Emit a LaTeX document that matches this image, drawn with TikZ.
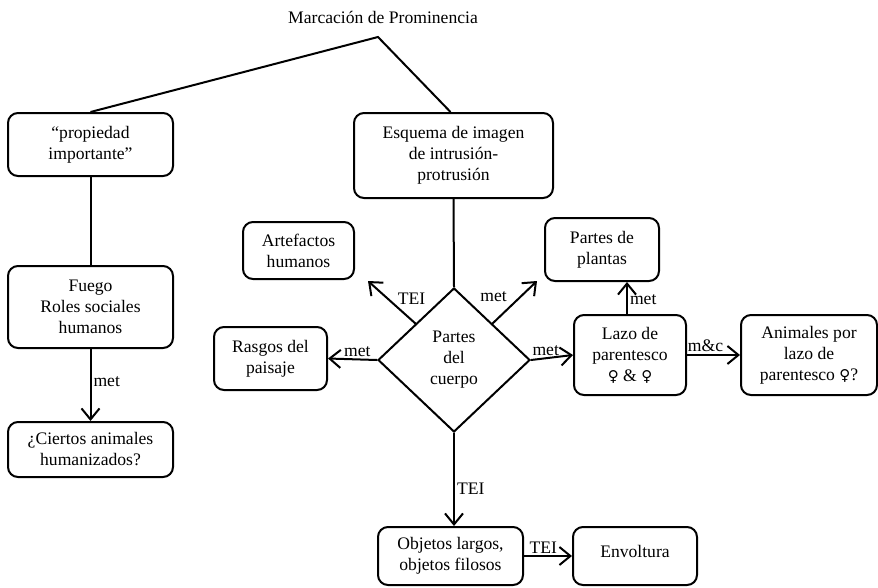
\documentclass[tikz,border=0pt]{standalone}
\usepackage{fontspec}
\setmainfont{Liberation Serif}
\newfontfamily\symfont{DejaVu Sans}
\newcommand{\fem}{{\symfont\fontsize{15}{21}\selectfont ♀}}
\usetikzlibrary{shapes.geometric,arrows.meta,calc}
\begin{document}
\begin{tikzpicture}[x=1pt,y=-1pt,
  every node/.style={font=\fontsize{17.6}{21}\selectfont},
  box/.style={draw,line width=2pt,rounded corners=10pt,align=center,inner sep=0pt},
  conn/.style={line width=2pt},
  arr/.style={line width=2pt,-{Straight Barb[length=11pt,width=18pt,line width=2pt]}},
  lbl/.style={inner sep=2pt}]
\useasboundingbox (0,0) rectangle (878,587);
\node (marc) at (383,17) {Marcación de Prominencia};
\coordinate (apex) at (378,37);
\node[box,minimum width=165pt,minimum height=63pt] (prop) at (90.5,144.5) {“propiedad\\importante”};
\node[box,minimum width=199pt,minimum height=85pt] (esq) at (453.5,155.5) {Esquema de imagen\\de intrusión-\\protrusión};
\node[box,minimum width=165pt,minimum height=82pt] (fuego) at (90.5,307) {Fuego\\Roles sociales\\humanos};
\node[box,minimum width=165pt,minimum height=55pt] (ciertos) at (90.5,449.5) {¿Ciertos animales\\humanizados?};
\node[box,minimum width=111pt,minimum height=57pt] (arte) at (298.5,250.5) {Artefactos\\humanos};
\node[box,minimum width=113pt,minimum height=63pt] (rasgos) at (270.5,358.5) {Rasgos del\\paisaje};
\node[draw,line width=2pt,shape=diamond,minimum width=152pt,minimum height=144pt,inner sep=0pt,align=center] (diam) at (454,360) {Partes\\del\\cuerpo};
\node[box,minimum width=114pt,minimum height=63pt] (plantas) at (602,249.5) {Partes de\\plantas};
\node[box,minimum width=112pt,minimum height=80pt] (lazo) at (630,355) {Lazo de\\parentesco\\\fem\ \& \fem};
\node[box,minimum width=136pt,minimum height=80pt] (anim) at (809,355) {Animales por\\lazo de\\parentesco \fem?};
\node[box,minimum width=145pt,minimum height=58pt] (obj) at (450.5,556) {Objetos largos,\\objetos filosos};
\node[box,minimum width=124pt,minimum height=58pt] (env) at (635,556) {\raisebox{9pt}{Envoltura}};
\coordinate (ul) at (416,324);
\coordinate (ulend) at (368,281);
\coordinate (ur) at (492,324);
\coordinate (urend) at (537,281);
% connectors
\draw[conn] (prop.north) -- (apex) -- ($(esq.north)+(-3,0)$);
\draw[conn] (prop.south) -- (fuego.north);
\draw[arr] (fuego.south) -- node[lbl,right,pos=0.45] {met} (ciertos.north);
\draw[conn] (esq.south) -- (diam.north);
\draw[arr] (ul) -- node[lbl,pos=0.3,xshift=10pt,yshift=12pt] {TEI} (ulend);
\draw[arr] (ur) -- node[lbl,pos=0.3,xshift=-12pt,yshift=14pt] {met} (urend);
\draw[arr] (diam.west) -- node[lbl,above,pos=0.4] {met} (rasgos.east);
\draw[arr] (diam.east) -- node[lbl,above,pos=0.35] {met} (lazo.west);
\draw[arr] ($(lazo.north)+(-3,0)$) -- node[lbl,right,pos=0.45] {met} ($(lazo.north |- plantas.south)+(-3,0)$);
\draw[arr] (lazo.east) -- node[lbl,above,pos=0.35] {m\&c} (anim.west);
\draw[arr] (diam.south) -- node[lbl,right,pos=0.6] {TEI} (diam.south |- obj.north);
\draw[arr] (obj.east) -- node[lbl,above,pos=0.4] {TEI} (env.west);
\end{tikzpicture}
\end{document}
